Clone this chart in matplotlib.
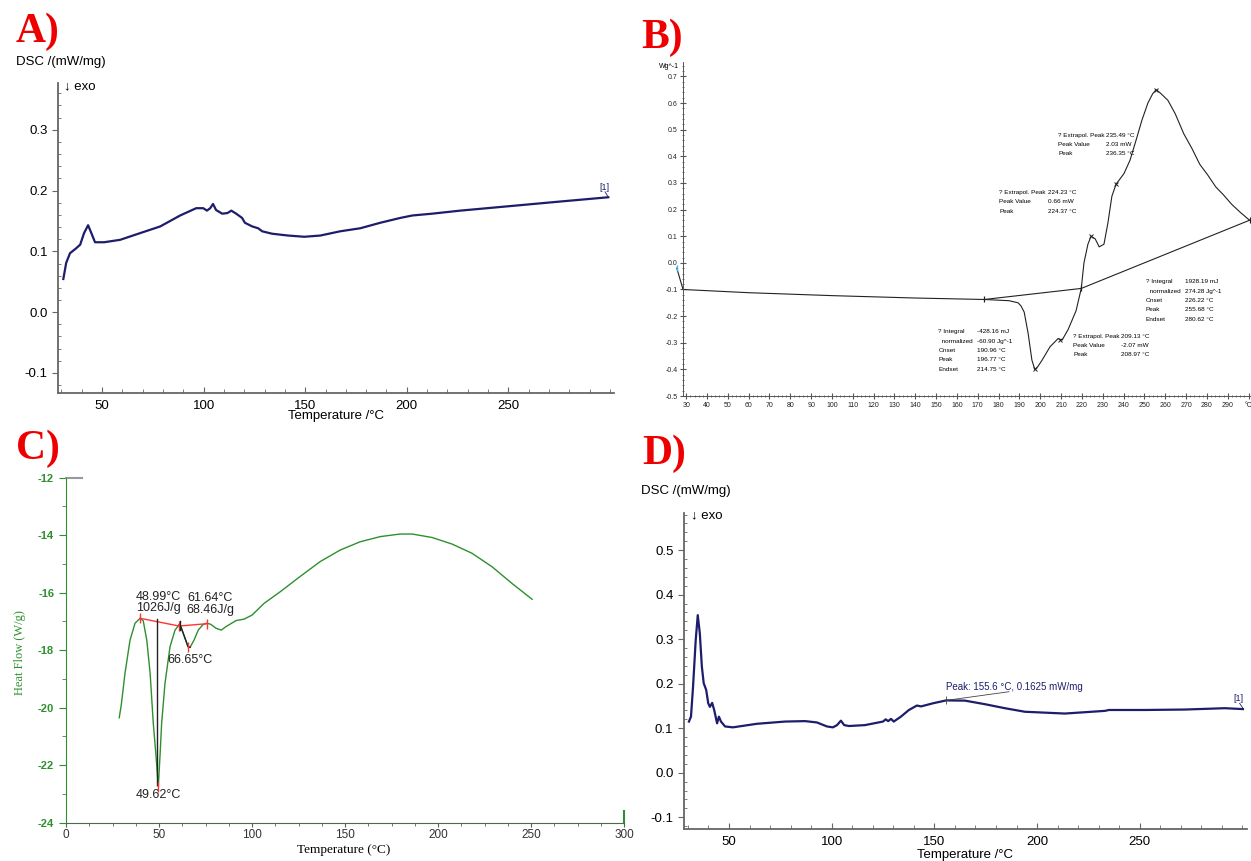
import numpy as np
import matplotlib.pyplot as plt
from matplotlib.ticker import MultipleLocator, FuncFormatter

plt.rcParams['axes.unicode_minus'] = False

# ---- data ----
# A) DSC curve
temp_a = [30.9, 32.3, 34.2, 37.2, 39.2, 41.1, 43.1, 44.7, 46.5, 51, 58.9, 68.7, 78.6,
          88.4, 96.3, 99.8, 101.6, 103.2, 104.6, 106.1, 109.1, 111.7, 113.6, 116, 118.9,
          120.3, 123.9, 126.8, 128.8, 133.7, 141.6, 149.5, 157.4, 167.2, 177.1, 186.9,
          196.8, 202.7, 212.5, 226.3, 236.2, 255.9, 275.6, 299.2]
dsc_a = [0.0545, 0.081, 0.097, 0.105, 0.111, 0.130, 0.143, 0.130, 0.115, 0.115, 0.119,
         0.130, 0.141, 0.159, 0.171, 0.171, 0.167, 0.171, 0.178, 0.168, 0.162, 0.163,
         0.167, 0.162, 0.155, 0.147, 0.141, 0.138, 0.133, 0.129, 0.126, 0.124, 0.126,
         0.133, 0.138, 0.147, 0.155, 0.159, 0.162, 0.167, 0.170, 0.176, 0.182, 0.189]
yticks_a = [-0.1, 0.0, 0.1, 0.2, 0.3]

# B) DSC curve with evaluation
temp_b = [25.5, 28.5, 60, 100, 140, 173.1, 185, 189.4, 190.8, 192.3, 194.2, 196, 197.4,
          198.8, 200.9, 204.7, 208.6, 210.5, 213.4, 217.2, 219.7, 221, 222.9, 224.4,
          226.4, 228.3, 230.6, 232.5, 234.4, 236.4, 240.2, 243.1, 246, 248.8, 251.7,
          254, 255.7, 258, 261.3, 264.8, 268.9, 272.8, 276.6, 280.4, 284.3, 288, 291.9,
          296, 300.5]
wg_b = [-0.02, -0.10, -0.112, -0.123, -0.132, -0.1375, -0.142, -0.150, -0.162, -0.185,
        -0.265, -0.365, -0.40, -0.39, -0.365, -0.315, -0.284, -0.29, -0.25, -0.18,
        -0.096, 0.0, 0.07, 0.10, 0.09, 0.06, 0.07, 0.15, 0.25, 0.295, 0.335, 0.385,
        0.46, 0.535, 0.60, 0.635, 0.65, 0.635, 0.61, 0.56, 0.485, 0.43, 0.37, 0.33,
        0.285, 0.255, 0.22, 0.19, 0.16]
yticks_b = [-0.5, -0.4, -0.3, -0.2, -0.1, 0.0, 0.1, 0.2, 0.3, 0.4, 0.5, 0.6, 0.7]
peaks_b_t = [197.4, 209.5, 224.4, 236.4, 255.7]
peaks_b_v = [-0.40, -0.288, 0.10, 0.295, 0.65]
base_b_t = [173.1, 219.7, 300.5]
base_b_v = [-0.1375, -0.096, 0.16]
notes_b = [
    (208.6, 231.6, 0.479, ["? Extrapol. Peak", "Peak Value", "Peak"],
     ["235.49 \u00b0C", "2.03 mW", "236.35 \u00b0C"]),
    (180.4, 203.8, 0.264, ["? Extrapol. Peak", "Peak Value", "Peak"],
     ["224.23 \u00b0C", "0.66 mW", "224.37 \u00b0C"]),
    (250.7, 269.5, -0.071, ["? Integral", "  normalized", "Onset", "Peak", "Endset"],
     ["1928.19 mJ", "274.28 Jg^-1", "226.22 \u00b0C", "255.68 \u00b0C", "280.62 \u00b0C"]),
    (151.1, 169.7, -0.259, ["? Integral", "  normalized", "Onset", "Peak", "Endset"],
     ["-428.16 mJ", "-60.90 Jg^-1", "190.96 \u00b0C", "196.77 \u00b0C", "214.75 \u00b0C"]),
    (215.9, 238.8, -0.275, ["? Extrapol. Peak", "Peak Value", "Peak"],
     ["209.13 \u00b0C", "-2.07 mW", "208.97 \u00b0C"]),
]

# C) heat flow curve
temp_c = [28.6, 29.7, 31.7, 34.4, 37.1, 39.8, 41.5, 43.4, 45.2, 46.9, 48.4, 49.6, 50.5,
          51.4, 53.2, 55.9, 58.6, 60.8, 61.7, 63.5, 65.6, 66.7, 68.8, 71.1, 73.5, 75.6,
          77.8, 80.7, 83.5, 86.0, 91.4, 95.7, 100, 106.5, 115.1, 125.8, 136.6, 147.3,
          158.1, 168.9, 179.6, 186.1, 196.8, 207.6, 218.3, 229.1, 239.8, 250.6]
hf_c = [-20.35, -19.9, -18.8, -17.65, -17.06, -16.89, -16.98, -17.65, -18.8, -20.54,
        -21.7, -22.75, -21.7, -20.54, -19.15, -17.88, -17.3, -17.12, -17.18, -17.5,
        -17.88, -17.9, -17.65, -17.3, -17.12, -17.06, -17.1, -17.24, -17.30, -17.18,
        -16.97, -16.92, -16.78, -16.37, -15.97, -15.44, -14.92, -14.52, -14.23, -14.05,
        -13.96, -13.96, -14.08, -14.31, -14.63, -15.1, -15.68, -16.23]
base_c_t = [39.8, 60.8, 75.6]
base_c_v = [-16.89, -17.16, -17.08]

# D) DSC curve
temp_d = [30.5, 31.5, 32.5, 33.8, 34.8, 35.8, 36.8, 37.7, 38.9, 39.9, 40.7, 41.8, 42.8,
          44.2, 45.1, 46.1, 48.1, 51.9, 63.6, 77.3, 87, 92.8, 97.7, 100.6, 102.6, 104.5,
          106.1, 108.4, 116.2, 125, 126.3, 127.5, 128.9, 130.2, 133.7, 137.6, 141.5,
          143.5, 149.3, 155.7, 164.9, 174.6, 184.3, 194.1, 203.8, 213.5, 223.3, 233,
          235, 252.5, 272, 291.4, 300.2]
dsc_d = [0.115, 0.126, 0.193, 0.298, 0.354, 0.313, 0.238, 0.201, 0.186, 0.156, 0.148,
         0.157, 0.141, 0.111, 0.126, 0.115, 0.104, 0.102, 0.110, 0.115, 0.116, 0.113,
         0.104, 0.102, 0.107, 0.117, 0.107, 0.105, 0.107, 0.115, 0.120, 0.116, 0.121,
         0.115, 0.126, 0.141, 0.151, 0.149, 0.156, 0.1625, 0.162, 0.154, 0.145, 0.137,
         0.135, 0.133, 0.136, 0.139, 0.141, 0.141, 0.142, 0.145, 0.143]
yticks_d = [-0.1, 0.0, 0.1, 0.2, 0.3, 0.4, 0.5]

navy = '#1d1d6b'
green = '#2e8f2e'
sans = ['Liberation Sans', 'DejaVu Sans']
narrow = ['Liberation Sans Narrow', 'Liberation Sans', 'DejaVu Sans']
serif = ['Liberation Serif', 'DejaVu Serif']
one_dec = FuncFormatter(lambda v, p: ('%.1f' % v).replace('-0.0', '0.0'))

fig = plt.figure(figsize=(12.51, 8.61), dpi=100)


def dsc_axes(ax, yticks):
    for s in ['top', 'right']:
        ax.spines[s].set_visible(False)
    for s in ['left', 'bottom']:
        ax.spines[s].set_color('#666666')
        ax.spines[s].set_linewidth(1.3)
    ax.set_xticks([50, 100, 150, 200, 250])
    ax.xaxis.set_minor_locator(MultipleLocator(10))
    ax.set_yticks(yticks)
    ax.yaxis.set_major_formatter(one_dec)
    ax.yaxis.set_minor_locator(MultipleLocator(0.02))
    ax.tick_params(axis='x', which='both', direction='in', colors='#666666', labelcolor='black',
                   labelsize=9.5, pad=5)
    ax.tick_params(axis='x', which='major', length=4)
    ax.tick_params(axis='x', which='minor', length=3)
    ax.tick_params(axis='y', which='major', direction='out', length=4, colors='#666666',
                   labelcolor='black', labelsize=9.5)
    ax.tick_params(axis='y', which='minor', direction='in', length=2, colors='#666666')
    for lab in ax.get_xticklabels() + ax.get_yticklabels():
        lab.set_fontfamily(sans)


# ---- A ----
ax_a = fig.add_axes([0.0464, 0.5436, 0.4444, 0.360])
ax_a.plot(temp_a, dsc_a, color=navy, lw=1.6)
ax_a.set_xlim(28.3, 302)
ax_a.set_ylim(-0.133, 0.377)
dsc_axes(ax_a, yticks_a)
ax_a.text(31.3, 0.371, '\u2193 exo', fontsize=9.5, family=sans, va='center')
ax_a.text(297.5, 0.205, '[1]', fontsize=6.5, color=navy, family=sans, ha='center', va='center')
ax_a.plot([297.6, 299.2], [0.198, 0.189], color=navy, lw=0.6)
fig.text(0.0128, 0.928, 'DSC /(mW/mg)', fontsize=9.5, family=sans, va='center')
fig.text(0.2686, 0.5168, 'Temperature /\u00b0C', fontsize=9.5, family=sans, ha='center', va='center')

# ---- B ----
ax_b = fig.add_axes([0.546, 0.540, 0.454, 0.388])
ax_b.plot(temp_b[1:], wg_b[1:], color='#222222', lw=0.8)
ax_b.plot(temp_b[:2], wg_b[:2], color='#222222', lw=0.8, clip_on=False)
ax_b.plot(temp_b[0], wg_b[0], marker='|', color='#33bbdd', ms=4, clip_on=False)
ax_b.plot(base_b_t, base_b_v, color='#222222', lw=0.8)
ax_b.plot(peaks_b_t, peaks_b_v, 'x', color='#222222', ms=3.5, mew=0.7)
ax_b.plot(base_b_t, base_b_v, '|', color='#222222', ms=5, mew=0.9, clip_on=False)
ax_b.set_xlim(28.5, 301.2)
ax_b.set_ylim(-0.5, 0.754)
for s in ['top', 'right']:
    ax_b.spines[s].set_visible(False)
for s in ['left', 'bottom']:
    ax_b.spines[s].set_color('#555555')
    ax_b.spines[s].set_linewidth(0.7)
xt_b = list(range(30, 300, 10)) + [300]
ax_b.set_xticks(xt_b)
ax_b.set_xticklabels([str(t) for t in xt_b[:-1]] + ['\u00b0C'])
ax_b.xaxis.set_minor_locator(MultipleLocator(2))
ax_b.set_yticks(yticks_b)
ax_b.yaxis.set_major_formatter(one_dec)
ax_b.yaxis.set_minor_locator(MultipleLocator(0.02))
ax_b.tick_params(which='both', direction='inout', colors='#555555', labelcolor='#222222',
                 labelsize=5, pad=2)
ax_b.tick_params(which='major', length=4)
ax_b.tick_params(which='minor', length=2)
for lab in ax_b.get_xticklabels() + ax_b.get_yticklabels():
    lab.set_fontfamily(narrow)
fig.text(0.5268, 0.9233, 'Wg^-1', fontsize=5, family=narrow, va='center')
for lx, vx, y0, labels, values in notes_b:
    for i in range(len(labels)):
        ax_b.text(lx, y0 - i * 0.035, labels[i], fontsize=4.6, family=narrow, va='center')
        ax_b.text(vx, y0 - i * 0.035, values[i], fontsize=4.6, family=narrow, va='center')

# ---- C ----
ax_c = fig.add_axes([0.0528, 0.0445, 0.446, 0.4007])
ax_c.plot(temp_c, hf_c, color=green, lw=1.0)
ax_c.plot(temp_c[17:22], hf_c[17:22], color='#222222', lw=1.0)
ax_c.plot(base_c_t, base_c_v, color='#ff3333', lw=1.0)
ax_c.plot([48.8, 48.8], [-16.9, -22.7], color='#222222', lw=1.0)
ax_c.plot(base_c_t + [65.6, 49.6], base_c_v + [-17.9, -22.75], '|', color='#ff3333',
          ms=7, mew=1.0)
ax_c.plot([61.3, 61.3], [-17.0, -17.3], color='#222222', lw=1.0)
ax_c.plot([0, 8.6], [-12, -12], color='#999999', lw=1.5, clip_on=False)
ax_c.plot([300, 300], [-24, -23.6], color=green, lw=1.5, clip_on=False)
ax_c.set_xlim(0, 300)
ax_c.set_ylim(-24, -12)
for s in ['top', 'right']:
    ax_c.spines[s].set_visible(False)
ax_c.spines['left'].set_color(green)
ax_c.spines['bottom'].set_color('#4a6a4a')
ax_c.set_xticks(range(0, 301, 50))
ax_c.xaxis.set_minor_locator(MultipleLocator(12.5))
ax_c.set_yticks(range(-24, -11, 2))
ax_c.yaxis.set_minor_locator(MultipleLocator(1))
ax_c.tick_params(axis='y', which='both', direction='out', colors=green, labelsize=8)
ax_c.tick_params(axis='y', which='major', length=5)
ax_c.tick_params(axis='y', which='minor', length=3)
ax_c.tick_params(axis='x', which='both', direction='out', colors='#4a6a4a',
                 labelcolor='#333333', labelsize=8.5, pad=1.5)
ax_c.tick_params(axis='x', which='major', length=3)
ax_c.tick_params(axis='x', which='minor', length=2)
for lab in ax_c.get_yticklabels():
    lab.set_fontfamily(sans)
    lab.set_fontweight('bold')
for lab in ax_c.get_xticklabels():
    lab.set_fontfamily(sans)
ax_c.text(49.6, -16.16, '48.99\u00b0C', fontsize=9, family=sans, ha='center', va='center', color='#222222')
ax_c.text(49.6, -16.54, '1026J/g', fontsize=9, family=sans, ha='center', va='center', color='#222222')
ax_c.text(77.6, -16.2, '61.64\u00b0C', fontsize=9, family=sans, ha='center', va='center', color='#222222')
ax_c.text(77.6, -16.6, '68.46J/g', fontsize=9, family=sans, ha='center', va='center', color='#222222')
ax_c.text(66.7, -18.34, '66.65\u00b0C', fontsize=9, family=sans, ha='center', va='center', color='#222222')
ax_c.text(49.6, -23.04, '49.62\u00b0C', fontsize=9, family=sans, ha='center', va='center', color='#222222')
fig.text(0.016, 0.2416, 'Heat Flow (W/g)', fontsize=9, family=serif, color=green,
         rotation=90, ha='center', va='center')
fig.text(0.275, 0.0125, 'Temperature (\u00b0C)', fontsize=9.5, family=serif, ha='center', va='center')

# ---- D ----
ax_d = fig.add_axes([0.5466, 0.0368, 0.4502, 0.3677])
ax_d.plot(temp_d, dsc_d, color=navy, lw=1.6)
ax_d.set_xlim(28.0, 302.2)
ax_d.set_ylim(-0.127, 0.584)
dsc_axes(ax_d, yticks_d)
ax_d.text(31.5, 0.579, '\u2193 exo', fontsize=9.5, family=sans, va='center')
ax_d.plot([155.7, 186.3], [0.1625, 0.182], color='#444444', lw=0.6)
ax_d.plot([155.7], [0.1625], '|', color='#444444', ms=6, mew=0.6)
ax_d.text(155.7, 0.193, 'Peak: 155.6 \u00b0C, 0.1625 mW/mg', fontsize=7, family=sans,
          color=navy, va='center')
ax_d.text(298, 0.166, '[1]', fontsize=6.5, color=navy, family=sans, ha='center', va='center')
ax_d.plot([298.6, 300.2], [0.156, 0.145], color=navy, lw=0.6)
fig.text(0.5124, 0.4297, 'DSC /(mW/mg)', fontsize=9.5, family=sans, va='center')
fig.text(0.7714, 0.0075, 'Temperature /\u00b0C', fontsize=9.5, family=sans, ha='center', va='center')

# panel letters
for x, y, s in [(0.0128, 0.985, 'A)'), (0.5124, 0.979, 'B)'), (0.0128, 0.5006, 'C)'), (0.5132, 0.4948, 'D)')]:
    fig.text(x, y, s, fontsize=30, fontweight='bold', family=serif, color='#ee0000', va='top')

fig.savefig('out.png', dpi=100)
